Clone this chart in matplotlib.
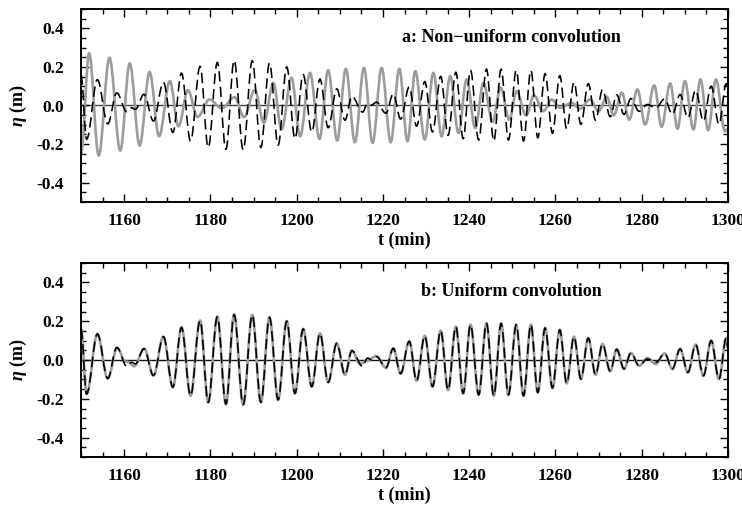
import matplotlib
matplotlib.use("Agg")
import matplotlib.pyplot as plt
from matplotlib.path import Path
from matplotlib.patches import PathPatch
from matplotlib.ticker import MultipleLocator, FormatStrFormatter

plt.rcParams['font.family'] = ['Liberation Serif', 'DejaVu Serif']
plt.rcParams['font.weight'] = 'bold'
plt.rcParams['mathtext.fontset'] = 'custom'
plt.rcParams['mathtext.it'] = 'Liberation Serif:bold:italic'
plt.rcParams['mathtext.rm'] = 'Liberation Serif:bold'

# ---- data: extrema (time in min, elevation in m) ----
obs_t = [1150.0, 1151.3, 1153.8, 1156.2, 1158.3, 1160.6, 1161.7, 1162.6, 1164.6,
         1166.8, 1169.1, 1171.3, 1173.3, 1175.4, 1177.6, 1179.5, 1181.6, 1183.6,
         1185.5, 1187.6, 1189.7, 1191.7, 1193.7, 1195.7, 1197.7, 1199.6, 1201.5,
         1203.5, 1205.4, 1207.3, 1209.3, 1211.2, 1212.8, 1215.3, 1216.4, 1217.3,
         1218.5, 1220.7, 1222.4, 1224.1, 1226.1, 1227.8, 1229.7, 1231.5, 1233.4,
         1235.1, 1236.9, 1238.6, 1240.3, 1242.2, 1244.0, 1245.7, 1247.4, 1249.1,
         1250.9, 1252.6, 1254.3, 1255.9, 1257.6, 1259.3, 1261.0, 1262.6, 1264.3,
         1265.9, 1267.6, 1269.3, 1270.9, 1272.7, 1274.2, 1275.9, 1277.5, 1279.4,
         1281.3, 1283.3, 1285.3, 1287.1, 1288.9, 1290.7, 1292.5, 1294.3, 1296.1,
         1297.9, 1299.6, 1300.0]
obs_v = [0.160, -0.175, 0.134, -0.095, 0.065, -0.032, -0.012, -0.020, 0.058,
         -0.080, 0.120, -0.140, 0.168, -0.184, 0.203, -0.218, 0.223, -0.227,
         0.234, -0.230, 0.232, -0.218, 0.220, -0.205, 0.200, -0.172, 0.160,
         -0.137, 0.137, -0.115, 0.086, -0.076, 0.048, -0.034, 0.010, 0.002,
         0.017, -0.040, 0.060, -0.070, 0.096, -0.107, 0.124, -0.137, 0.151,
         -0.155, 0.172, -0.172, 0.182, -0.179, 0.189, -0.184, 0.188, -0.179,
         0.182, -0.184, 0.182, -0.167, 0.165, -0.144, 0.155, -0.120, 0.120,
         -0.098, 0.113, -0.076, 0.082, -0.058, 0.055, -0.046, 0.036, -0.030,
         0.005, -0.012, 0.034, -0.046, 0.057, -0.064, 0.079, -0.081, 0.100,
         -0.098, 0.113, 0.060]

nonuni_t = [1150.0, 1151.9, 1154.1, 1156.6, 1159.1, 1161.3, 1163.6, 1165.9, 1168.1,
            1170.6, 1172.6, 1174.8, 1177.0, 1179.8, 1182.6, 1185.6, 1187.8, 1190.3,
            1192.4, 1194.6, 1196.5, 1198.8, 1200.8, 1203.1, 1205.3, 1207.3, 1209.4,
            1211.4, 1213.5, 1215.6, 1217.6, 1219.7, 1221.8, 1223.8, 1225.7, 1227.5,
            1229.7, 1231.7, 1233.6, 1235.6, 1237.5, 1239.4, 1241.4, 1243.3, 1245.4,
            1247.3, 1249.3, 1251.0, 1253.2, 1255.0, 1257.2, 1259.1, 1261.1, 1263.8,
            1265.7, 1268.0, 1270.0, 1271.9, 1273.5, 1275.4, 1277.1, 1279.0, 1280.8,
            1282.9, 1284.6, 1286.6, 1288.3, 1290.0, 1292.0, 1293.6, 1295.4, 1297.2,
            1299.3, 1300.0]
nonuni_v = [-0.250, 0.270, -0.259, 0.247, -0.233, 0.218, -0.207, 0.173, -0.159,
            0.126, -0.107, 0.079, -0.059, 0.031, -0.015, 0.043, -0.060, 0.080,
            -0.090, 0.117, -0.124, 0.143, -0.159, 0.169, -0.173, 0.183, -0.181,
            0.190, -0.190, 0.195, -0.193, 0.195, -0.190, 0.190, -0.185, 0.178,
            -0.176, 0.169, -0.159, 0.152, -0.142, 0.135, -0.116, 0.117, -0.085,
            0.092, -0.073, 0.074, -0.052, 0.052, -0.029, 0.031, -0.012, 0.014,
            -0.017, 0.031, -0.030, 0.045, -0.050, 0.066, -0.073, 0.083, -0.098,
            0.104, -0.110, 0.114, -0.120, 0.126, -0.124, 0.135, -0.128, 0.135,
            -0.133, -0.120]

uni_t = [1150.0, 1151.3, 1153.8, 1156.2, 1158.4, 1160.3, 1160.9, 1162.3, 1164.7,
         1166.8, 1169.1, 1171.3, 1173.3, 1175.4, 1177.6, 1179.5, 1181.6, 1183.6,
         1185.5, 1187.6, 1189.7, 1191.7, 1193.7, 1195.7, 1197.7, 1199.6, 1201.5,
         1203.5, 1205.4, 1207.3, 1209.3, 1211.2, 1212.8, 1214.7, 1216.2, 1218.5,
         1220.7, 1222.4, 1224.1, 1226.1, 1227.8, 1229.7, 1231.5, 1233.4,
         1235.1, 1236.9, 1238.6, 1240.3, 1242.2, 1244.0, 1245.7, 1247.4, 1249.1,
         1250.9, 1252.6, 1254.3, 1255.9, 1257.6, 1259.3, 1261.0, 1262.6, 1264.3,
         1265.9, 1267.6, 1269.3, 1270.9, 1272.7, 1274.2, 1275.9, 1277.5, 1279.4,
         1281.3, 1283.3, 1285.3, 1287.1, 1288.9, 1290.7, 1292.5, 1294.3, 1296.1,
         1297.9, 1299.6, 1300.0]
uni_v = [0.160, -0.175, 0.134, -0.095, 0.062, -0.008, -0.010, -0.032, 0.058,
         -0.080, 0.120, -0.140, 0.168, -0.184, 0.203, -0.218, 0.223, -0.227,
         0.234, -0.230, 0.232, -0.218, 0.220, -0.205, 0.200, -0.172, 0.160,
         -0.137, 0.137, -0.115, 0.086, -0.076, 0.048, -0.020, -0.005, 0.020,
         -0.040, 0.060, -0.070, 0.096, -0.107, 0.124, -0.137, 0.151,
         -0.155, 0.172, -0.172, 0.182, -0.179, 0.189, -0.184, 0.188, -0.179,
         0.182, -0.184, 0.182, -0.167, 0.165, -0.144, 0.155, -0.120, 0.120,
         -0.098, 0.113, -0.076, 0.082, -0.058, 0.055, -0.046, 0.036, -0.030,
         0.010, -0.020, 0.034, -0.046, 0.057, -0.064, 0.079, -0.081, 0.100,
         -0.098, 0.113, 0.060]

x_ticks = [1160, 1180, 1200, 1220, 1240, 1260, 1280, 1300]
y_ticks = [-0.4, -0.2, 0.0, 0.2, 0.4]
titles = ["a: Non\u2212uniform convolution", "b: Uniform convolution"]

GRAY = '#9c9c9c'


def smooth_path(ts, vs, k=0.3634):
    verts = [(ts[0], vs[0])]
    codes = [Path.MOVETO]
    for i in range(len(ts) - 1):
        dt = ts[i + 1] - ts[i]
        verts += [(ts[i] + k * dt, vs[i]), (ts[i + 1] - k * dt, vs[i + 1]),
                  (ts[i + 1], vs[i + 1])]
        codes += [Path.CURVE4] * 3
    return Path(verts, codes)


fig = plt.figure(figsize=(7.42, 5.11), dpi=100)
L, W = 81 / 742, 647 / 742
ax_a = fig.add_axes([L, 1 - 202 / 511, W, 193 / 511])
ax_b = fig.add_axes([L, 1 - 457 / 511, W, 194 / 511])

panels = [(ax_a, nonuni_t, nonuni_v, titles[0], '#444444'),
          (ax_b, uni_t, uni_v, titles[1], '#111111')]
for ax, gt, gv, title, zc in panels:
    ax.set_xlim(1150, 1300)
    ax.set_ylim(-0.5, 0.5)
    ax.axhline(0, color=zc, lw=1.0, zorder=1)
    ax.add_patch(PathPatch(smooth_path(gt, gv), fill=False, ec=GRAY, lw=1.9,
                           zorder=2, capstyle='round'))
    ax.add_patch(PathPatch(smooth_path(obs_t, obs_v), fill=False, ec='black',
                           lw=1.15, ls=(0, (6.5, 3.2)), zorder=3))
    ax.set_xticks(x_ticks)
    ax.set_yticks(y_ticks)
    ax.xaxis.set_minor_locator(MultipleLocator(5))
    ax.yaxis.set_minor_locator(MultipleLocator(0.05))
    ax.yaxis.set_major_formatter(FormatStrFormatter('%.1f'))
    ax.tick_params(which='both', direction='in', top=True, right=True,
                   labelsize=12.5, width=1.0)
    ax.tick_params(axis='x', which='both', pad=8)
    ax.tick_params(axis='y', which='both', pad=12)
    ax.tick_params(which='major', length=6)
    ax.tick_params(which='minor', length=3.5)
    for s in ax.spines.values():
        s.set_linewidth(1.4)
    ax.set_xlabel('t (min)', fontsize=13, fontweight='bold')
    ax.xaxis.set_label_coords(0.5, -0.2)
    ax.xaxis.label.set_verticalalignment('center')
    ax.set_ylabel(r'$\eta$ (m)', fontsize=13, fontweight='bold')
    ax.yaxis.set_label_coords(-0.097, 0.5)
    ax.yaxis.label.set_verticalalignment('center')
    ax.text(1249.7, 0.354, title, ha='center', va='center', fontsize=13,
            fontweight='bold')

fig.savefig('out.png', dpi=100)
